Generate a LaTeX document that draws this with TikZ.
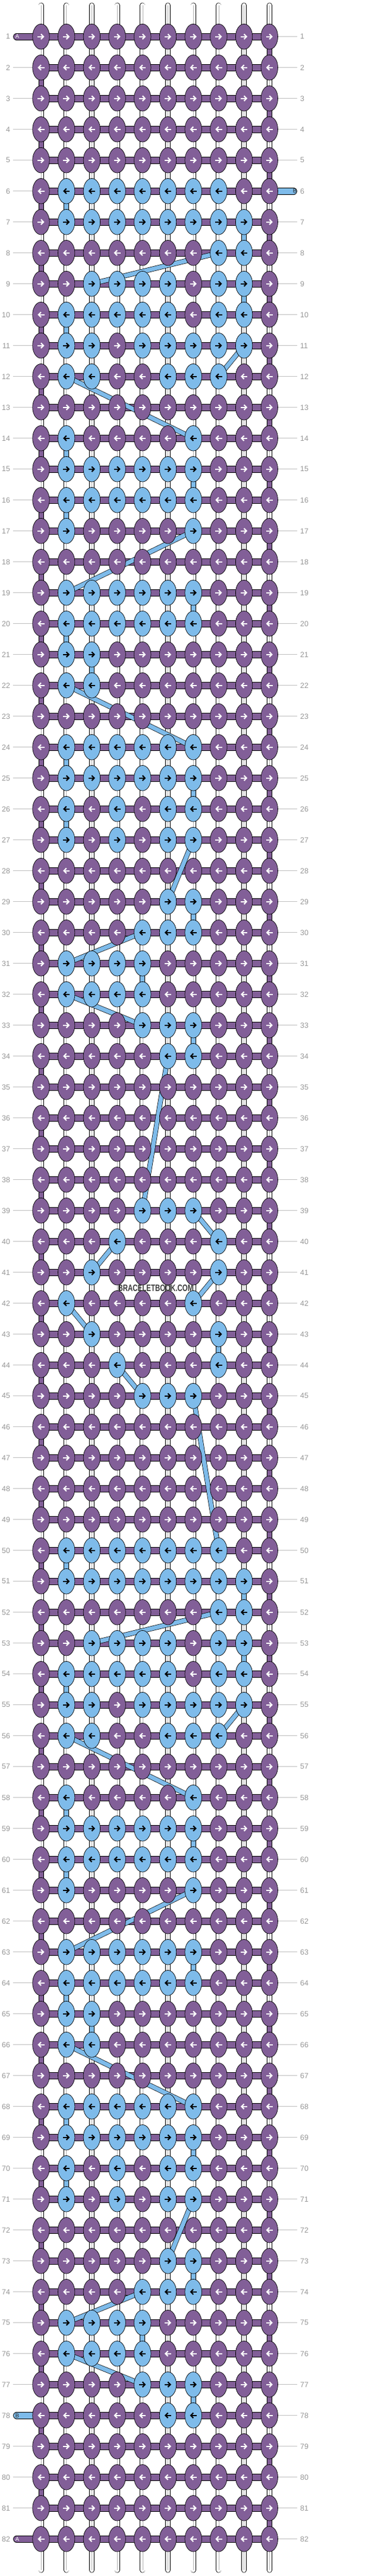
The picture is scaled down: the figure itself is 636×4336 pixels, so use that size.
\documentclass[tikz,border=0pt]{standalone}
\usepackage{fontspec}
\setmainfont{Liberation Sans}
\usetikzlibrary{shapes.geometric,arrows.meta,backgrounds}

\definecolor{threadA}{RGB}{130,95,152}
\definecolor{threadB}{RGB}{126,187,234}
\definecolor{guide}{RGB}{192,192,192}
\definecolor{rowno}{RGB}{150,150,150}
\definecolor{stamp}{RGB}{60,60,60}

\def\bluelist{,}
\foreach \r/\cs in {6/{2,...,8},7/{2,...,9},8/{8,9},9/{3,4,5,6,8,9},10/{2,3,4,5,6,8,9},
  11/{2,3,5,6,7,8,9},12/{2,3,6,7,8},14/{2,7},15/{2,...,7},16/{2,...,7},17/{2,7},
  19/{2,...,7},20/{2,...,7},21/{2,3},22/{2,3},24/{2,...,7},25/{2,...,7},26/{2,4,6,7},
  27/{2,4,6,7},29/{6,7},30/{5,6,7},31/{2,...,5},32/{2,...,5},33/{5,6,7},34/{6,7}}{
  \foreach \off in {0,44}{
    \pgfmathtruncatemacro\rr{\r+\off}
    \foreach \c in \cs {\xdef\bluelist{\bluelist\rr-\c,}}
  }
}
\foreach \r/\cs in {39/{5,6,7},40/{4,8},41/{3,8},42/{2,7},43/{3,8},44/{4,8},45/{5,6,7}}{
  \foreach \c in \cs {\xdef\bluelist{\bluelist\r-\c,}}
}

\makeatletter
\newcommand\pickthread[2]{%
  \edef\pt@test{\noexpand\in@{,#1-#2,}{\bluelist}}\pt@test
  \ifin@\def\knotcol{threadB}\def\arrcol{black}%
  \else\def\knotcol{threadA}\def\arrcol{white}\fi}
\makeatother

\begin{document}
\begin{tikzpicture}[x=1pt,y=-1pt,
  knot/.style={ellipse,draw=black,line width=0.7pt,fill=#1,minimum width=28.4pt,minimum height=42.6pt,inner sep=0pt},
  dirarrow/.style={line width=2.1pt,-{Straight Barb[length=4.2pt,width=8.6pt]}},
  warp/.style={draw=black,line width=0.7pt,double=white,double distance=7.6pt,line cap=round},
  warpcore/.style={draw=black!30,line width=0.5pt},
  weft/.style={draw=black,line width=0.7pt,double=#1,double distance=10.3pt},
  link/.style={draw=black,line width=0.7pt,double=#1,double distance=7pt},
  guideline/.style={draw=guide,line width=0.8pt},
  rowlabel/.style={text=rowno,font=\fontsize{12.5}{13}\selectfont,inner sep=0pt},
  tabletter/.style={font=\fontsize{9.5}{10}\selectfont,inner sep=0pt}]
\useasboundingbox (0,0) rectangle (636,4336);

\foreach \r in {1,...,82}{
  \foreach \c in {1,...,10}{
    \pickthread{\r}{\c}
    \node[knot=\knotcol] (k\r-\c) at ({69+(\c-1)*42.7},{61.7+(\r-1)*52}) {};
    \ifodd\r
      \draw[dirarrow,draw=\arrcol] ([xshift=-5.6pt]k\r-\c.center) -- ([xshift=5.6pt]k\r-\c.center);
    \else
      \draw[dirarrow,draw=\arrcol] ([xshift=5.6pt]k\r-\c.center) -- ([xshift=-5.6pt]k\r-\c.center);
    \fi
  }
  \node[rowlabel,anchor=east] (ll\r) at (17.3,{61.7+(\r-1)*52}) {\r};
  \node[rowlabel,anchor=west] (lr\r) at (505,{61.7+(\r-1)*52}) {\r};
}

\node[tabletter,text=white] (tA1) at ([xshift=-40pt]k1-1.center) {A};
\node[tabletter,text=white] (tA82) at ([xshift=-40pt]k82-1.center) {A};
\node[tabletter,text=black!85] (tB6) at ([xshift=42.7pt]k6-10.center) {B};
\node[tabletter,text=black!85] (tB78) at ([xshift=-40pt]k78-1.center) {B};

\node[text=stamp,font=\bfseries\fontsize{15.5}{16}\selectfont,inner sep=0pt] (stamp) at (262,2168) {\scalebox{0.74}[1]{BRACELETBOOK.COM}};

\begin{pgfonlayer}{background}
\foreach \c in {1,...,10}{
  \coordinate (wt\c) at ({69+(\c-1)*42.7},9);
  \coordinate (wb\c) at ({69+(\c-1)*42.7},4326);
  \draw[warp] (wt\c) -- (wb\c);
  \draw[warpcore] (wt\c) -- (wb\c);
}

\foreach \r in {1,...,82}
  \draw[weft=threadA] (k\r-1.center) -- (k\r-10.center);
\foreach \r [evaluate=\r as \n using int(\r+1)] in {1,3,...,81}
  \draw[link=threadA] (k\r-10.center) -- (k\n-10.center);
\foreach \r [evaluate=\r as \n using int(\r+1)] in {2,4,...,80}
  \draw[link=threadA] (k\r-1.center) -- (k\n-1.center);

\coordinate (endA1) at ([xshift=-41pt]k1-1.center);
\coordinate (endA82) at ([xshift=-41pt]k82-1.center);
\coordinate (endB6) at ([xshift=40.7pt]k6-10.center);
\coordinate (endB78) at ([xshift=-41pt]k78-1.center);
\draw[weft=threadA,line cap=round] (endA1) -- (k1-1.center);
\draw[weft=threadA,line cap=round] (endA82) -- (k82-1.center);
\draw[weft=threadB,line cap=round] (k6-10.center) -- (endB6);
\draw[weft=threadB,line cap=round] (endB78) -- (k78-1.center);

\foreach \r in {2,...,77,79,80,81}
  \draw[guideline,shorten <=4.4pt] (ll\r.east) -- (k\r-1.west);
\foreach \r in {1,...,5,7,8,...,82}
  \draw[guideline,shorten >=5pt] (k\r-10.east) -- (lr\r.west);

\foreach \off in {0,44}{
  \foreach \ra/\ca/\rb/\cb in {6/2/7/2,7/9/8/9,8/8/9/3,9/9/10/9,10/2/11/2,11/9/12/8,12/2/14/7,
    14/2/15/2,15/7/16/7,16/2/17/2,17/7/19/2,19/7/20/7,20/2/21/2,21/3/22/3,22/2/24/7,
    24/2/25/2,25/7/26/7,26/2/27/2,27/7/29/6,29/7/30/7,30/5/31/2,31/5/32/5,32/2/33/5,33/7/34/7}{
    \pgfmathtruncatemacro\rra{\ra+\off}
    \pgfmathtruncatemacro\rrb{\rb+\off}
    \draw[link=threadB] (k\rra-\ca.center) -- (k\rrb-\cb.center);
  }
}
\foreach \ra/\ca/\rb/\cb in {34/6/39/5,39/7/40/8,40/4/41/3,41/8/42/7,42/2/43/3,43/8/44/8,44/4/45/5,45/7/50/8}
  \draw[link=threadB] (k\ra-\ca.center) -- (k\rb-\cb.center);
\end{pgfonlayer}
\end{tikzpicture}
\end{document}
